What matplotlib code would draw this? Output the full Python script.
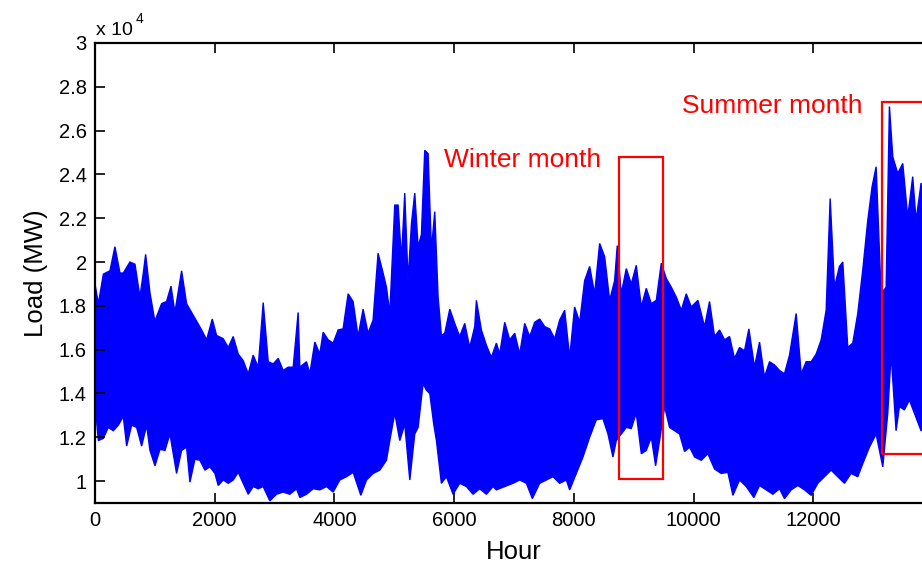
import numpy as np
import matplotlib
matplotlib.use("Agg")
import matplotlib.pyplot as plt
from matplotlib.patches import Rectangle

plt.rcParams['font.family'] = ['Liberation Sans', 'DejaVu Sans']

# upper envelope of the hourly load (hour, MW)
upper_hours = [0, 56, 140, 250, 333, 417, 473, 584, 668, 751, 807, 846, 918, 1000, 1113, 1196, 1270,
               1335, 1447, 1530, 1614, 1698, 1781, 1865, 1959, 2031, 2142, 2226, 2309, 2393, 2476,
               2560, 2643, 2727, 2810, 2894, 2977, 3061, 3144, 3227, 3311, 3394, 3422, 3534, 3589,
               3673, 3756, 3812, 3895, 3979, 4062, 4145, 4229, 4312, 4395, 4479, 4562, 4646, 4729,
               4813, 4869, 4925, 5008, 5064, 5120, 5175, 5230, 5287, 5342, 5398, 5453, 5509, 5565,
               5620, 5676, 5732, 5787, 5843, 5927, 6010, 6093, 6177, 6260, 6344, 6372, 6455, 6539,
               6622, 6706, 6761, 6845, 6928, 7012, 7095, 7179, 7262, 7346, 7429, 7513, 7596, 7679,
               7763, 7846, 7930, 8013, 8097, 8180, 8264, 8347, 8431, 8514, 8598, 8681, 8725, 8792,
               8876, 8959, 9043, 9127, 9210, 9294, 9377, 9461, 9544, 9628, 9711, 9795, 9878, 9962,
               10072, 10184, 10267, 10351, 10434, 10518, 10601, 10684, 10768, 10851, 10924, 11018,
               11102, 11185, 11269, 11352, 11436, 11519, 11603, 11714, 11798, 11881, 11965, 12048,
               12132, 12215, 12282, 12354, 12437, 12493, 12576, 12660, 12743, 12827, 12910, 12983,
               13050, 13133, 13217, 13272, 13328, 13411, 13495, 13578, 13661, 13717, 13801, 14000]
upper_load = [19000, 18100, 19450, 19600, 20700, 19500, 19500, 20000, 19900, 18400, 19500, 20350,
              18600, 17300, 18100, 18200, 18900, 17700, 19600, 18100, 17700, 17300, 16900, 16450,
              17400, 16650, 16500, 16100, 16600, 15800, 15500, 14900, 15750, 15200, 18150, 15450,
              15350, 15600, 15050, 15200, 15200, 17700, 15200, 15450, 14900, 16350, 15800, 16800,
              16450, 16300, 16900, 16950, 18550, 18200, 16600, 17850, 16750, 17350, 20400, 19500,
              18850, 17650, 22600, 22600, 20100, 23150, 19150, 21750, 23150, 20700, 21250, 25100,
              24950, 20550, 22300, 18400, 16650, 16750, 17850, 17200, 16600, 17200, 16100, 17050,
              18250, 16900, 16200, 15650, 16300, 15800, 17250, 16450, 16750, 15800, 17200, 16600,
              17250, 17400, 17050, 16950, 16500, 17350, 17800, 15650, 17950, 17250, 19150, 19800,
              18550, 20850, 20250, 18250, 19150, 20750, 18550, 19700, 19000, 19850, 17950, 18800,
              18100, 18250, 19950, 19250, 18850, 18400, 17800, 18550, 17950, 18250, 17050, 18200,
              16600, 16900, 16450, 16600, 15600, 16100, 15950, 16950, 15200, 16350, 14750, 15450,
              15300, 15050, 14900, 15750, 17650, 14900, 15450, 15450, 15800, 16450, 17800, 22900,
              18850, 19800, 20000, 16100, 16300, 17650, 19650, 21900, 23450, 24350, 18550, 18850,
              27100, 24800, 24050, 24500, 22050, 23900, 21900, 23600, 23000]

# lower envelope of the hourly load (hour, MW)
lower_hours = [0, 56, 139, 222, 306, 389, 473, 529, 612, 696, 779, 863, 918, 1002, 1085, 1169, 1252,
               1363, 1447, 1530, 1586, 1669, 1753, 1836, 1920, 2003, 2059, 2142, 2226, 2309, 2393,
               2476, 2560, 2643, 2727, 2810, 2921, 3033, 3144, 3255, 3367, 3422, 3534, 3645, 3756,
               3868, 3979, 4090, 4202, 4313, 4441, 4536, 4647, 4758, 4869, 4925, 5008, 5092, 5175,
               5259, 5342, 5398, 5481, 5537, 5593, 5659, 5704, 5787, 5871, 5982, 6093, 6205, 6316,
               6427, 6539, 6650, 6706, 6845, 6983, 7095, 7207, 7307, 7429, 7541, 7652, 7763, 7875,
               7930, 8041, 8152, 8264, 8375, 8486, 8570, 8653, 8709, 8792, 8876, 8959, 9043, 9127,
               9210, 9294, 9366, 9432, 9516, 9599, 9683, 9766, 9850, 9933, 10017, 10128, 10239,
               10351, 10462, 10573, 10657, 10768, 10880, 11007, 11102, 11213, 11324, 11436, 11519,
               11631, 11742, 11853, 11965, 12076, 12187, 12298, 12409, 12521, 12632, 12743, 12827,
               12938, 13050, 13161, 13244, 13300, 13383, 13439, 13522, 13606, 13689, 13801, 14000]
lower_load = [13550, 11850, 11950, 12450, 12300, 12550, 12950, 11600, 12550, 12450, 11600, 12550,
              11400, 10700, 11450, 11400, 12150, 10350, 11400, 11550, 9950, 11000, 10950, 10500,
              10650, 10350, 9800, 10050, 9900, 10050, 10400, 9900, 9400, 9750, 9650, 9750, 9100,
              9400, 9500, 9400, 9650, 9250, 9400, 9650, 9600, 9750, 9500, 10050, 10200, 10400,
              9350, 10050, 10350, 10500, 10950, 11850, 13100, 11850, 12600, 10050, 12150, 12450,
              14450, 14150, 14000, 12600, 11850, 9900, 10200, 9400, 9900, 9750, 9400, 9650, 9400,
              9750, 9600, 9750, 9900, 10050, 9900, 9200, 9900, 10050, 10200, 9900, 10050, 9600,
              10350, 11100, 12000, 12800, 12850, 12150, 11100, 11850, 12150, 12450, 12400, 13100,
              11250, 11400, 12000, 10700, 11850, 13400, 12450, 12300, 12150, 11350, 11550, 11100,
              10950, 11250, 10550, 10350, 10400, 9350, 10050, 9750, 9250, 9800, 9600, 9400, 9650,
              9200, 9600, 9800, 9600, 9350, 9900, 10200, 10500, 10200, 9900, 10350, 10200, 10800,
              11550, 12150, 10650, 13100, 15800, 12300, 13400, 13250, 13700, 13100, 12300, 12500]

y_ticks = [10000, 12000, 14000, 16000, 18000, 20000, 22000, 24000, 26000, 28000, 30000]
x_ticks = [0, 2000, 4000, 6000, 8000, 10000, 12000]

# highlighted months: (start hour, end hour, low MW, high MW)
winter_box = (8760, 9490, 10100, 24800)
summer_box = (13150, 14200, 11250, 27300)

fig = plt.figure(figsize=(9.22, 5.67), dpi=100)
ax = fig.add_axes([95 / 922, 64 / 567, 838 / 922, 460 / 567])

band_x = np.concatenate([upper_hours, lower_hours[::-1]])
band_y = np.concatenate([upper_load, lower_load[::-1]])
ax.fill(band_x, band_y, facecolor='#0000ff', edgecolor='#0000ff', linewidth=1.0)

for (x0, x1, y0, y1) in [winter_box, summer_box]:
    ax.add_patch(Rectangle((x0, y0), x1 - x0, y1 - y0, fill=False,
                           edgecolor='#ff0000', linewidth=1.6, clip_on=False, zorder=3))

ax.text(5830, 24330, 'Winter month', color='#ff0000', fontsize=19, va='baseline', ha='left')
ax.text(9800, 26800, 'Summer month', color='#ff0000', fontsize=19, va='baseline', ha='left')

ax.set_xlim(0, 14000)
ax.set_ylim(9000, 30000)
ax.set_xticks(x_ticks)
ax.set_xticklabels([str(t) for t in x_ticks])
ax.set_yticks(y_ticks)
ax.set_yticklabels([f"{t / 1e4:g}" for t in y_ticks])
ax.tick_params(direction='in', length=7, width=1.2, top=True, right=True,
               labelsize=14.5, pad=6)
for sp in ax.spines.values():
    sp.set_linewidth(1.6)

ax.set_xlabel('Hour', fontsize=18.5, labelpad=7)
ax.set_ylabel('Load (MW)', fontsize=18.5, labelpad=8)

fig.text(96 / 922, 1 - 35 / 567, 'x 10', fontsize=14, ha='left', va='baseline')
fig.text(136 / 922, 1 - 23 / 567, '4', fontsize=10, ha='left', va='baseline')

fig.savefig('out.png', dpi=100)
